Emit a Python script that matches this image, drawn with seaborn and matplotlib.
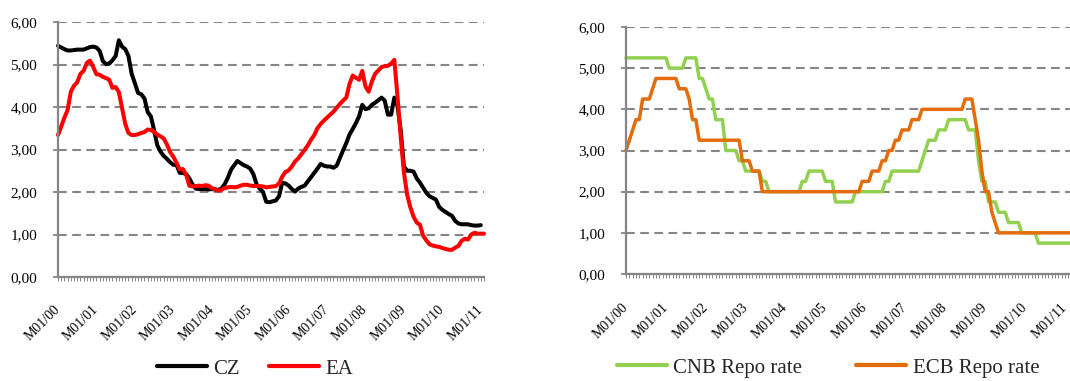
import matplotlib
matplotlib.use("Agg")
import matplotlib.pyplot as plt
import pandas as pd
import seaborn as sns

# Year tick labels (January of each year)
year_labels = ["M01/00", "M01/01", "M01/02", "M01/03", "M01/04", "M01/05",
               "M01/06", "M01/07", "M01/08", "M01/09", "M01/10", "M01/11"]

# 3M interbank rates, monthly averages from Jan 2000 (%)
cz_3m = [
    5.44, 5.40, 5.36, 5.33, 5.33, 5.34, 5.35, 5.35, 5.35, 5.38, 5.41, 5.42,
    5.40, 5.32, 5.08, 5.01, 5.02, 5.10, 5.20, 5.57, 5.42, 5.36, 5.20, 4.78,
    4.56, 4.33, 4.30, 4.20, 3.88, 3.78, 3.45, 3.10, 2.95, 2.85, 2.78, 2.70,
    2.64, 2.64, 2.45, 2.45, 2.42, 2.32, 2.18, 2.08, 2.07, 2.07, 2.07, 2.06,
    2.07, 2.06, 2.05, 2.08, 2.18, 2.33, 2.52, 2.63, 2.73, 2.68, 2.63, 2.60,
    2.55, 2.42, 2.18, 2.08, 2.00, 1.77, 1.76, 1.78, 1.80, 1.90, 2.22, 2.20,
    2.15, 2.07, 2.01, 2.08, 2.12, 2.15, 2.25, 2.35, 2.45, 2.55, 2.66, 2.62,
    2.60, 2.60, 2.57, 2.62, 2.80, 2.98, 3.15, 3.35, 3.48, 3.62, 3.78, 4.05,
    3.95, 3.97, 4.05, 4.10, 4.16, 4.22, 4.15, 3.82, 3.82, 4.22, 4.02, 3.45,
    2.60, 2.50, 2.50, 2.48, 2.32, 2.22, 2.10, 1.98, 1.90, 1.86, 1.82, 1.65,
    1.58, 1.53, 1.48, 1.44, 1.32, 1.26, 1.24, 1.24, 1.24, 1.22, 1.21, 1.21,
    1.22,
]
ea_3m = [
    3.34, 3.54, 3.75, 3.93, 4.36, 4.50, 4.58, 4.78, 4.85, 5.04, 5.09, 4.94,
    4.77, 4.76, 4.71, 4.68, 4.64, 4.45, 4.47, 4.35, 3.98, 3.60, 3.39, 3.34,
    3.34, 3.36, 3.39, 3.41, 3.47, 3.46, 3.41, 3.35, 3.31, 3.26, 3.12, 2.94,
    2.83, 2.69, 2.53, 2.54, 2.41, 2.15, 2.13, 2.14, 2.15, 2.14, 2.16, 2.15,
    2.09, 2.07, 2.03, 2.05, 2.09, 2.11, 2.12, 2.11, 2.12, 2.15, 2.17, 2.17,
    2.15, 2.14, 2.14, 2.14, 2.13, 2.11, 2.12, 2.13, 2.14, 2.20, 2.36, 2.47,
    2.51, 2.60, 2.72, 2.79, 2.89, 2.99, 3.10, 3.23, 3.34, 3.50, 3.60, 3.68,
    3.75, 3.82, 3.89, 3.98, 4.07, 4.15, 4.22, 4.54, 4.74, 4.69, 4.64, 4.85,
    4.48, 4.36, 4.60, 4.78, 4.86, 4.94, 4.96, 4.97, 5.02, 5.11, 4.24, 3.29,
    2.46, 1.94, 1.64, 1.42, 1.28, 1.23, 0.97, 0.86, 0.77, 0.74, 0.72, 0.71,
    0.68, 0.66, 0.64, 0.64, 0.69, 0.73, 0.85, 0.90, 0.88, 1.00, 1.04, 1.02,
    1.02, 1.02,
]

# Policy (repo) rates, end of month from Jan 2000 (%)
cnb_repo = [
    5.25, 5.25, 5.25, 5.25, 5.25, 5.25, 5.25, 5.25, 5.25, 5.25, 5.25, 5.25,
    5.25, 5.00, 5.00, 5.00, 5.00, 5.00, 5.25, 5.25, 5.25, 5.25, 4.75, 4.75,
    4.50, 4.25, 4.25, 3.75, 3.75, 3.75, 3.00, 3.00, 3.00, 3.00, 2.75, 2.75,
    2.50, 2.50, 2.50, 2.50, 2.50, 2.25, 2.25, 2.00, 2.00, 2.00, 2.00, 2.00,
    2.00, 2.00, 2.00, 2.00, 2.00, 2.25, 2.25, 2.50, 2.50, 2.50, 2.50, 2.50,
    2.25, 2.25, 2.25, 1.75, 1.75, 1.75, 1.75, 1.75, 1.75, 2.00, 2.00, 2.00,
    2.00, 2.00, 2.00, 2.00, 2.00, 2.00, 2.25, 2.25, 2.50, 2.50, 2.50, 2.50,
    2.50, 2.50, 2.50, 2.50, 2.50, 2.75, 3.00, 3.25, 3.25, 3.25, 3.50, 3.50,
    3.50, 3.75, 3.75, 3.75, 3.75, 3.75, 3.75, 3.50, 3.50, 3.50, 2.75, 2.25,
    2.25, 1.75, 1.75, 1.75, 1.50, 1.50, 1.50, 1.25, 1.25, 1.25, 1.25, 1.00,
    1.00, 1.00, 1.00, 1.00, 0.75, 0.75, 0.75, 0.75, 0.75, 0.75, 0.75, 0.75,
    0.75, 0.75, 0.75,
]
ecb_repo = [
    3.00, 3.25, 3.50, 3.75, 3.75, 4.25, 4.25, 4.25, 4.50, 4.75, 4.75, 4.75,
    4.75, 4.75, 4.75, 4.75, 4.50, 4.50, 4.50, 4.25, 3.75, 3.75, 3.25, 3.25,
    3.25, 3.25, 3.25, 3.25, 3.25, 3.25, 3.25, 3.25, 3.25, 3.25, 3.25, 2.75,
    2.75, 2.75, 2.50, 2.50, 2.50, 2.00, 2.00, 2.00, 2.00, 2.00, 2.00, 2.00,
    2.00, 2.00, 2.00, 2.00, 2.00, 2.00, 2.00, 2.00, 2.00, 2.00, 2.00, 2.00,
    2.00, 2.00, 2.00, 2.00, 2.00, 2.00, 2.00, 2.00, 2.00, 2.00, 2.00, 2.25,
    2.25, 2.25, 2.50, 2.50, 2.50, 2.75, 2.75, 3.00, 3.00, 3.25, 3.25, 3.50,
    3.50, 3.50, 3.75, 3.75, 3.75, 4.00, 4.00, 4.00, 4.00, 4.00, 4.00, 4.00,
    4.00, 4.00, 4.00, 4.00, 4.00, 4.00, 4.25, 4.25, 4.25, 3.75, 3.25, 2.50,
    2.00, 2.00, 1.50, 1.25, 1.00, 1.00, 1.00, 1.00, 1.00, 1.00, 1.00, 1.00,
    1.00, 1.00, 1.00, 1.00, 1.00, 1.00, 1.00, 1.00, 1.00, 1.00, 1.00, 1.00,
    1.00, 1.00, 1.00,
]

y_ticks = [0, 1, 2, 3, 4, 5, 6]

GRAY = "#868686"
DPI = 100
W, H = 1070, 381


def long_frame(series):
    frames = []
    for name, values in series.items():
        frames.append(pd.DataFrame({"month": range(len(values)),
                                    "rate": values, "series": name}))
    return pd.concat(frames, ignore_index=True)


sns.set_theme(style="white")
plt.rcParams["font.family"] = ["Liberation Serif", "DejaVu Serif"]

fig = plt.figure(figsize=(W / DPI, H / DPI), dpi=DPI)


def px_axes(x0, x1, y_top, y_bottom):
    return fig.add_axes([x0 / W, 1 - y_bottom / H, (x1 - x0) / W,
                         (y_bottom - y_top) / H])


def style_axes(ax, n_months, x_max, xpad):
    ax.set_ylim(0, 6)
    ax.set_xlim(0, x_max)
    ax.set_yticks(y_ticks)
    ax.set_yticklabels([f"{v:.2f}".replace(".", ",") for v in y_ticks])
    ax.set_xticks(range(n_months))
    ax.set_xticklabels([year_labels[i // 12] if i % 12 == 0 else ""
                        for i in range(n_months)])
    for lab in ax.get_xticklabels():
        lab.set_rotation(45)
        lab.set_ha("right")
        lab.set_va("center")
        lab.set_rotation_mode("anchor")
    ax.set_xlabel("")
    ax.set_ylabel("")
    ax.set_axisbelow(True)
    ax.yaxis.grid(True, color=GRAY, linewidth=1.5, linestyle=(0, (4.2, 2.6)))
    ax.xaxis.grid(False)
    for side in ("top", "right"):
        ax.spines[side].set_visible(False)
    for side in ("left", "bottom"):
        ax.spines[side].set_color(GRAY)
        ax.spines[side].set_linewidth(1.6)
    ax.tick_params(axis="y", length=3.6, width=1.3, color=GRAY, pad=11.5,
                   labelsize=11, labelcolor="black", left=True)
    ax.tick_params(axis="x", length=2.9, width=0.7, color=GRAY, pad=xpad,
                   labelsize=10, labelcolor="black", bottom=True)
    ax.patch.set_alpha(0)


# Left panel: 3M market rates
ax1 = px_axes(58, 484, 22, 277)
left_df = long_frame({"CZ": cz_3m, "EA": ea_3m})
sns.lineplot(data=left_df, x="month", y="rate", hue="series",
             palette={"CZ": "#000000", "EA": "#FF0000"},
             linewidth=2.9, ax=ax1, legend=False)
style_axes(ax1, len(ea_3m), len(ea_3m) - 1, 19)

# Right panel: policy rates (runs to the right edge of the figure)
ax2 = px_axes(626, 1075, 27, 274)
right_df = long_frame({"CNB Repo rate": cnb_repo, "ECB Repo rate": ecb_repo})
sns.lineplot(data=right_df, x="month", y="rate", hue="series",
             palette={"CNB Repo rate": "#92D050", "ECB Repo rate": "#E46C0A"},
             linewidth=2.5, ax=ax2, legend=False)
style_axes(ax2, len(ecb_repo), len(ecb_repo), 20)

for ax in (ax1, ax2):
    for ln in ax.get_lines():
        ln.set_clip_on(False)
        ln.set_solid_joinstyle("round")

leg1 = ax1.legend(handles=ax1.get_lines()[:2], labels=["CZ", "EA"],
                  loc="center", bbox_to_anchor=(255 / W, 1 - 369 / H),
                  bbox_transform=fig.transFigure, ncol=2, frameon=False,
                  fontsize=15, handlelength=2.4, handletextpad=0.3,
                  columnspacing=1.4)
leg2 = ax2.legend(handles=ax2.get_lines()[:2],
                  labels=["CNB Repo rate", "ECB Repo rate"],
                  loc="center", bbox_to_anchor=(828 / W, 1 - 368 / H),
                  bbox_transform=fig.transFigure, ncol=2, frameon=False,
                  fontsize=15, handlelength=2.4, handletextpad=0.3,
                  columnspacing=2.6)
for leg in (leg1, leg2):
    for h in leg.legend_handles:
        h.set_linewidth(3.0)

fig.savefig("out.png", dpi=DPI)
